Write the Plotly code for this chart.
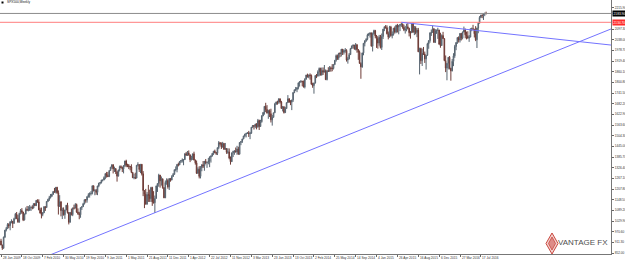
import plotly.graph_objects as go

# ---------------- data (SPX500 weekly, week start 28 Jun 2009 .. 14 Aug 2016) ----------------
opens = [919.0, 896.4, 879.1, 940.4, 979.3, 987.5, 1010.5, 1004.1, 1026.1, 1028.9,
 1016.4, 1042.7, 1068.3, 1044.4, 1025.2, 1071.5, 1087.7, 1079.6, 1036.2, 1069.3,
 1093.5, 1091.4, 1091.5, 1106.0, 1106.4, 1102.5, 1126.5, 1115.1, 1145.0, 1136.0,
 1091.8, 1073.9, 1066.2, 1075.5, 1109.2, 1104.5, 1138.7, 1150.0, 1159.9, 1166.6,
 1178.1, 1194.4, 1192.1, 1217.3, 1186.7, 1110.9, 1135.7, 1087.7, 1089.4, 1064.9,
 1091.6, 1117.5, 1076.8, 1022.6, 1078.0, 1064.9, 1102.7, 1101.6, 1121.6, 1079.3,
 1071.7, 1064.6, 1104.5, 1109.6, 1125.6, 1148.7, 1146.2, 1165.2, 1176.2, 1183.1,
 1183.3, 1225.9, 1199.2, 1199.7, 1189.4, 1224.7, 1240.4, 1243.9, 1256.8, 1257.6,
 1271.5, 1293.2, 1283.4, 1276.3, 1310.9, 1329.2, 1343.0, 1319.9, 1321.2, 1304.3,
 1279.2, 1313.8, 1332.4, 1328.2, 1319.7, 1337.4, 1363.6, 1340.2, 1338.0, 1333.3,
 1331.1, 1300.2, 1271.0, 1271.5, 1268.5, 1339.7, 1343.8, 1316.1, 1345.0, 1292.3,
 1199.4, 1178.8, 1123.5, 1176.8, 1174.0, 1154.2, 1216.0, 1136.4, 1131.4, 1155.5,
 1224.6, 1238.3, 1285.1, 1253.2, 1263.9, 1215.7, 1158.7, 1244.3, 1255.2, 1219.7,
 1265.3, 1257.6, 1277.8, 1289.1, 1315.4, 1316.3, 1344.9, 1342.6, 1361.2, 1366.0,
 1370.0, 1370.9, 1404.2, 1397.1, 1408.5, 1398.1, 1370.3, 1378.5, 1403.4, 1369.1,
 1353.4, 1295.2, 1317.8, 1278.0, 1325.7, 1342.8, 1335.0, 1362.2, 1354.7, 1356.8,
 1362.7, 1386.0, 1391.0, 1405.9, 1418.2, 1411.1, 1406.6, 1437.9, 1465.8, 1460.2,
 1440.7, 1460.9, 1428.6, 1433.2, 1411.9, 1414.2, 1379.9, 1359.9, 1409.2, 1416.2,
 1418.1, 1413.6, 1430.2, 1402.4, 1466.5, 1472.1, 1486.0, 1503.0, 1513.2, 1517.9,
 1519.8, 1515.6, 1518.2, 1551.2, 1560.7, 1556.9, 1569.2, 1553.3, 1588.9, 1555.3,
 1582.2, 1614.4, 1633.7, 1667.5, 1649.6, 1630.7, 1643.4, 1626.7, 1592.4, 1606.3,
 1631.9, 1680.2, 1692.1, 1691.7, 1709.7, 1691.4, 1655.8, 1663.5, 1633.0, 1655.2,
 1688.0, 1709.9, 1691.8, 1690.5, 1703.2, 1744.5, 1759.8, 1761.6, 1770.6, 1798.2,
 1804.8, 1805.8, 1805.1, 1775.3, 1818.3, 1841.4, 1831.4, 1842.4, 1838.7, 1790.3,
 1782.6, 1797.0, 1838.6, 1836.2, 1859.5, 1878.0, 1841.1, 1866.5, 1857.6, 1865.1,
 1815.7, 1864.9, 1863.4, 1881.1, 1878.5, 1877.9, 1900.5, 1923.6, 1949.4, 1936.2,
 1962.9, 1961.0, 1985.4, 1967.6, 1978.2, 1978.3, 1925.2, 1931.6, 1955.1, 1988.4,
 2003.4, 2007.7, 1985.5, 2010.4, 1982.9, 1967.9, 1906.1, 1886.8, 1964.6, 2018.1,
 2031.9, 2039.8, 2063.5, 2067.6, 2075.4, 2002.3, 2070.7, 2088.8, 2058.2, 2044.8,
 2019.4, 2051.8, 1995.0, 2055.5, 2097.0, 2110.3, 2104.5, 2071.3, 2053.4, 2108.1,
 2061.0, 2067.0, 2102.1, 2081.2, 2117.7, 2108.3, 2116.1, 2122.7, 2126.1, 2107.4,
 2092.8, 2094.1, 2110.0, 2101.5, 2076.8, 2076.6, 2126.6, 2079.7, 2103.8, 2077.6,
 2091.5, 1970.9, 1988.9, 1921.2, 1961.1, 1958.0, 1931.3, 1951.4, 2014.9, 2033.1,
 2075.2, 2079.4, 2099.2, 2023.0, 2089.2, 2090.1, 2091.7, 2012.4, 2005.6, 2061.0,
 2043.9, 1922.0, 1880.3, 1906.9, 1940.2, 1880.0, 1864.8, 1917.8, 1948.1, 2000.0,
 2022.2, 2049.6, 2035.9, 2072.8, 2047.6, 2080.7, 2091.6, 2065.3, 2057.1, 2046.6,
 2052.3, 2099.1, 2099.1, 2096.1, 2071.2, 2037.4, 2103.0, 2129.9, 2161.7, 2175.0,
 2173.6, 2182.9, 2184.1]

highs = [931, 898, 943, 980, 996.7, 1018, 1018, 1027.6, 1039.5, 1030,
 1048.2, 1074.8, 1080.2, 1063, 1076, 1096.6, 1101.4, 1081, 1071, 1105.4,
 1113.7, 1112.4, 1119.1, 1110.7, 1117.7, 1128, 1130.4, 1145.4, 1150.4, 1150.5,
 1103.7, 1104.7, 1080, 1112.4, 1112.4, 1139, 1153.4, 1169.8, 1180.2, 1181.4,
 1194.7, 1213.9, 1217.8, 1219.8, 1200, 1173.6, 1141.4, 1104.3, 1105.7, 1092,
 1119.4, 1131.2, 1080, 1080, 1099, 1103.7, 1120.9, 1129.2, 1127, 1100,
 1081, 1105, 1110, 1131, 1148.9, 1151, 1167.7, 1184.4, 1189.4, 1196,
 1227.1, 1227, 1207, 1207.8, 1225.6, 1242, 1246.7, 1259.4, 1259.3, 1278.2,
 1296.1, 1303, 1302.7, 1311, 1330.8, 1344.1, 1344.5, 1332.3, 1322.5, 1305.5,
 1314.8, 1337.9, 1339.5, 1332, 1341, 1364.6, 1370.6, 1348.4, 1346.8, 1336,
 1345.2, 1301, 1292.5, 1298.6, 1341, 1356.5, 1344, 1347, 1347, 1307.4,
 1201, 1208.5, 1190.7, 1230.7, 1204.4, 1220.1, 1220.4, 1195.9, 1171.4, 1226.8,
 1239, 1292.7, 1286, 1277.6, 1266.9, 1217, 1255.1, 1267.1, 1265.4, 1269,
 1269.4, 1284.6, 1296.8, 1315.5, 1333.5, 1345.3, 1354.3, 1362.2, 1368.9, 1378,
 1371.9, 1405.9, 1414, 1419.2, 1422.4, 1399, 1392.8, 1404.2, 1415.3, 1371,
 1365.9, 1328.5, 1334.9, 1335, 1344.8, 1363.5, 1362.3, 1374.8, 1357.3, 1380.4,
 1389.2, 1394.2, 1407, 1418.7, 1426.7, 1413.5, 1438, 1474.5, 1467, 1467.1,
 1470, 1464, 1464, 1434, 1434.3, 1433.4, 1388.8, 1410, 1421, 1424,
 1438.6, 1448, 1443, 1467.9, 1472.8, 1487, 1503.3, 1514.4, 1518.3, 1524.7,
 1530.9, 1525.3, 1552.5, 1563.6, 1563.6, 1570.3, 1573.7, 1597.4, 1593.3, 1592.6,
 1618.5, 1635, 1669, 1687.2, 1674.2, 1648.7, 1650.5, 1654.2, 1620, 1632,
 1687, 1693.1, 1698.8, 1711, 1710, 1697.9, 1669.5, 1669.5, 1664.8, 1689.6,
 1729.9, 1711.2, 1701.9, 1703.4, 1745.3, 1760, 1775.2, 1774.5, 1799, 1806,
 1813.6, 1810, 1811, 1823.8, 1842.8, 1849.4, 1843.2, 1850.8, 1844.6, 1798.8,
 1799, 1840, 1847.5, 1867.9, 1883.6, 1882.4, 1883.3, 1883.9, 1897.3, 1872.5,
 1869.6, 1884.9, 1891.3, 1889.1, 1902.2, 1901.3, 1924, 1955.6, 1955.6, 1963.9,
 1968.2, 1985.6, 1986, 1983.9, 1991.4, 1984.9, 1942.9, 1964, 1992.4, 2005,
 2011.2, 2009.2, 2019.3, 2012, 1985.2, 1977.8, 1912.1, 1965.3, 2019, 2034.3,
 2046.2, 2071.5, 2075.8, 2079.5, 2077.9, 2077.9, 2093.6, 2092.7, 2064.4, 2056.9,
 2064.6, 2064.6, 2072.4, 2097.5, 2111, 2119.6, 2117.5, 2083.5, 2114.9, 2114.9,
 2084, 2102.6, 2111.9, 2120.9, 2125.9, 2120.5, 2123.9, 2134.7, 2126.2, 2121.9,
 2115, 2126.6, 2129.9, 2104, 2085.7, 2128.7, 2132.8, 2114.2, 2112.7, 2102.7,
 2103.5, 1993.5, 1993.5, 1988.6, 1997.5, 1971.9, 1952, 2020.9, 2033.5, 2079.7,
 2094.3, 2116.5, 2100, 2097.4, 2094.1, 2104.3, 2093, 2076.7, 2067.7, 2081.6,
 2046, 1950.3, 1908.9, 1941, 1947.2, 1881.6, 1930.7, 1962.9, 2009.1, 2024.7,
 2052.4, 2056.6, 2075.1, 2075.1, 2083.3, 2111, 2099.9, 2083.3, 2084.9, 2064.1,
 2100.1, 2105.3, 2120.6, 2098, 2113.3, 2104, 2131.7, 2169, 2175.6, 2177.1,
 2184, 2188.5, 2193.8]

lows = [895, 869.3, 875, 935, 972, 986, 990, 978.5, 1017, 991,
 1016, 1040, 1040, 1019.95, 1020, 1066, 1070, 1029.4, 1033, 1067,
 1085, 1083.7, 1086, 1085.9, 1095, 1099.5, 1114.8, 1114, 1131.4, 1090.2,
 1071.6, 1044.5, 1056.5, 1075, 1086, 1104, 1134.9, 1141.5, 1155.4, 1165.5,
 1175.4, 1186.8, 1183.7, 1181.6, 1065.8, 1110, 1055.9, 1040.8, 1060, 1042.2,
 1089.6, 1071.5, 1010.9, 1022, 1061, 1056.9, 1094, 1101, 1076, 1063.9,
 1039.7, 1047.9, 1091.5, 1108, 1122, 1131.9, 1131.9, 1159.7, 1159.7, 1171.7,
 1177.7, 1194.1, 1173, 1176, 1173.6, 1217.8, 1232.9, 1238.3, 1250.2, 1257,
 1262.2, 1271.3, 1275.1, 1275.5, 1309, 1320, 1294.3, 1302.6, 1291, 1249,
 1278.5, 1305.3, 1322.9, 1302, 1294.7, 1331.1, 1329.2, 1329.2, 1318.5, 1311.8,
 1296, 1268.5, 1261.9, 1262.9, 1267, 1333, 1302.6, 1295.9, 1282.9, 1168.1,
 1101.5, 1122.2, 1121.1, 1136, 1136.1, 1136, 1114.2, 1127.4, 1074.8, 1154,
 1191.5, 1220.2, 1215.4, 1226.6, 1209.4, 1157, 1157.5, 1231.5, 1209.5, 1202.4,
 1248.6, 1256.5, 1274.6, 1288, 1306.1, 1300.5, 1333.5, 1340, 1352.3, 1354.9,
 1340, 1369.5, 1391.6, 1391.6, 1392.9, 1357.4, 1366.8, 1369, 1367, 1343.3,
 1291.9, 1292.6, 1266.7, 1266.7, 1306.6, 1324.4, 1309.3, 1345.1, 1325.4, 1345.1,
 1329.2, 1354.7, 1389, 1397.3, 1406.1, 1397, 1396.6, 1429.1, 1449.6, 1430.5,
 1439, 1425.5, 1425.5, 1403.3, 1403.3, 1373, 1343.4, 1358, 1385.4, 1398,
 1411.9, 1398.1, 1398.1, 1398.1, 1451.6, 1463.8, 1485, 1495, 1495, 1514,
 1497.3, 1485, 1514.6, 1547.4, 1538.6, 1546.2, 1539.5, 1548.6, 1536, 1554,
 1577, 1613, 1621, 1635.5, 1627, 1598.2, 1607.9, 1577.7, 1560.3, 1604.6,
 1630, 1674.6, 1676.7, 1681.9, 1683.4, 1654, 1639.2, 1627.5, 1630, 1654,
 1686, 1687.1, 1674.1, 1646.5, 1692.1, 1740.5, 1752.7, 1746.2, 1761.6, 1777.2,
 1798.2, 1779.1, 1772.3, 1767, 1816, 1827.7, 1823.7, 1815.8, 1788, 1770.5,
 1737.9, 1794.6, 1824.6, 1832.4, 1834.4, 1839.5, 1839.5, 1842.1, 1856.7, 1814.4,
 1812, 1858.2, 1859.8, 1859.8, 1862.4, 1872.4, 1896.9, 1915.9, 1925.8, 1925.8,
 1941, 1944.7, 1952.9, 1955.6, 1965.8, 1916.4, 1904.8, 1928.8, 1953, 1986.3,
 1990.1, 1983.9, 1978.6, 1965.9, 1926, 1905, 1820.7, 1882, 1951.4, 2001,
 2025.9, 2034.5, 2058.6, 2049.6, 2000, 1972.6, 2066.4, 2046, 1992.4, 1988.1,
 2004.5, 1989.2, 1980.9, 2041.9, 2085.4, 2100.2, 2067.3, 2039.7, 2049, 2055.8,
 2045.5, 2060.8, 2072.6, 2074, 2077.9, 2067.9, 2085.7, 2109.6, 2099.2, 2085.7,
 2072.1, 2084.7, 2095.2, 2056.3, 2044, 2076, 2077.3, 2063.5, 2067.9, 2052.1,
 1969, 1845, 1903.1, 1891.8, 1953.5, 1908.8, 1871.9, 1948, 1987.5, 2021.3,
 2058.8, 2076, 2022.5, 2019.4, 2070.3, 2042.4, 2011.2, 1993.3, 2003, 2043.6,
 1918.5, 1857.8, 1812.3, 1872.7, 1872.7, 1810.1, 1862, 1891, 1937.1, 1979.6,
 2014.7, 2022.5, 2022.5, 2033.8, 2039.7, 2079.1, 2045.6, 2039.5, 2044.5, 2025.9,
 2051.6, 2085.1, 2094, 2050.4, 2030, 1991.7, 2074, 2128, 2159, 2157.6,
 2147.6, 2168.8, 2178]

closes = [896.4, 879.1, 940.4, 979.3, 987.5, 1010.5, 1004.1, 1026.1, 1028.9, 1016.4,
 1042.7, 1068.3, 1044.4, 1025.2, 1071.5, 1087.7, 1079.6, 1036.2, 1069.3, 1093.5,
 1091.4, 1091.5, 1106.0, 1106.4, 1102.5, 1126.5, 1115.1, 1145.0, 1136.0, 1091.8,
 1073.9, 1066.2, 1075.5, 1109.2, 1104.5, 1138.7, 1150.0, 1159.9, 1166.6, 1178.1,
 1194.4, 1192.1, 1217.3, 1186.7, 1110.9, 1135.7, 1087.7, 1089.4, 1064.9, 1091.6,
 1117.5, 1076.8, 1022.6, 1078.0, 1064.9, 1102.7, 1101.6, 1121.6, 1079.3, 1071.7,
 1064.6, 1104.5, 1109.6, 1125.6, 1148.7, 1146.2, 1165.2, 1176.2, 1183.1, 1183.3,
 1225.9, 1199.2, 1199.7, 1189.4, 1224.7, 1240.4, 1243.9, 1256.8, 1257.6, 1271.5,
 1293.2, 1283.4, 1276.3, 1310.9, 1329.2, 1343.0, 1319.9, 1321.2, 1304.3, 1279.2,
 1313.8, 1332.4, 1328.2, 1319.7, 1337.4, 1363.6, 1340.2, 1338.0, 1333.3, 1331.1,
 1300.2, 1271.0, 1271.5, 1268.5, 1339.7, 1343.8, 1316.1, 1345.0, 1292.3, 1199.4,
 1178.8, 1123.5, 1176.8, 1174.0, 1154.2, 1216.0, 1136.4, 1131.4, 1155.5, 1224.6,
 1238.3, 1285.1, 1253.2, 1263.9, 1215.7, 1158.7, 1244.3, 1255.2, 1219.7, 1265.3,
 1257.6, 1277.8, 1289.1, 1315.4, 1316.3, 1344.9, 1342.6, 1361.2, 1366.0, 1370.0,
 1370.9, 1404.2, 1397.1, 1408.5, 1398.1, 1370.3, 1378.5, 1403.4, 1369.1, 1353.4,
 1295.2, 1317.8, 1278.0, 1325.7, 1342.8, 1335.0, 1362.2, 1354.7, 1356.8, 1362.7,
 1386.0, 1391.0, 1405.9, 1418.2, 1411.1, 1406.6, 1437.9, 1465.8, 1460.2, 1440.7,
 1460.9, 1428.6, 1433.2, 1411.9, 1414.2, 1379.9, 1359.9, 1409.2, 1416.2, 1418.1,
 1413.6, 1430.2, 1402.4, 1466.5, 1472.1, 1486.0, 1503.0, 1513.2, 1517.9, 1519.8,
 1515.6, 1518.2, 1551.2, 1560.7, 1556.9, 1569.2, 1553.3, 1588.9, 1555.3, 1582.2,
 1614.4, 1633.7, 1667.5, 1649.6, 1630.7, 1643.4, 1626.7, 1592.4, 1606.3, 1631.9,
 1680.2, 1692.1, 1691.7, 1709.7, 1691.4, 1655.8, 1663.5, 1633.0, 1655.2, 1688.0,
 1709.9, 1691.8, 1690.5, 1703.2, 1744.5, 1759.8, 1761.6, 1770.6, 1798.2, 1804.8,
 1805.8, 1805.1, 1775.3, 1818.3, 1841.4, 1831.4, 1842.4, 1838.7, 1790.3, 1782.6,
 1797.0, 1838.6, 1836.2, 1859.5, 1878.0, 1841.1, 1866.5, 1857.6, 1865.1, 1815.7,
 1864.9, 1863.4, 1881.1, 1878.5, 1877.9, 1900.5, 1923.6, 1949.4, 1936.2, 1962.9,
 1961.0, 1985.4, 1967.6, 1978.2, 1978.3, 1925.2, 1931.6, 1955.1, 1988.4, 2003.4,
 2007.7, 1985.5, 2010.4, 1982.9, 1967.9, 1906.1, 1886.8, 1964.6, 2018.1, 2031.9,
 2039.8, 2063.5, 2067.6, 2075.4, 2002.3, 2070.7, 2088.8, 2058.2, 2044.8, 2019.4,
 2051.8, 1995.0, 2055.5, 2097.0, 2110.3, 2104.5, 2071.3, 2053.4, 2108.1, 2061.0,
 2067.0, 2102.1, 2081.2, 2117.7, 2108.3, 2116.1, 2122.7, 2126.1, 2107.4, 2092.8,
 2094.1, 2110.0, 2101.5, 2076.8, 2076.6, 2126.6, 2079.7, 2103.8, 2077.6, 2091.5,
 1970.9, 1988.9, 1921.2, 1961.1, 1958.0, 1931.3, 1951.4, 2014.9, 2033.1, 2075.2,
 2079.4, 2099.2, 2023.0, 2089.2, 2090.1, 2091.7, 2012.4, 2005.6, 2061.0, 2043.9,
 1922.0, 1880.3, 1906.9, 1940.2, 1880.0, 1864.8, 1917.8, 1948.1, 2000.0, 2022.2,
 2049.6, 2035.9, 2072.8, 2047.6, 2080.7, 2091.6, 2065.3, 2057.1, 2046.6, 2052.3,
 2099.1, 2099.1, 2096.1, 2071.2, 2037.4, 2103.0, 2129.9, 2161.7, 2175.0, 2173.6,
 2182.9, 2184.1, 2183.9]

date_label_bars = [0, 16, 32, 48, 64, 80, 96, 112, 128, 144, 160, 176,
                   192, 208, 224, 240, 256, 272, 288, 304, 320, 336, 352, 368]
date_labels = ["28 Jun 2009", "18 Oct 2009", "7 Feb 2010", "30 May 2010", "19 Sep 2010",
               "9 Jan 2011", "1 May 2011", "21 Aug 2011", "11 Dec 2011", "1 Apr 2012",
               "22 Jul 2012", "11 Nov 2012", "3 Mar 2013", "23 Jun 2013", "13 Oct 2013",
               "2 Feb 2014", "25 May 2014", "14 Sep 2014", "4 Jan 2015", "26 Apr 2015",
               "16 Aug 2015", "6 Dec 2015", "27 Mar 2016", "17 Jul 2016"]

price_ticks = [852.00, 911.30, 970.60, 1029.90, 1089.20, 1148.50, 1207.80, 1267.10,
               1326.40, 1385.70, 1445.00, 1504.30, 1563.60, 1622.90, 1682.20, 1741.50,
               1800.80, 1860.10, 1919.40, 1978.70, 2038.00, 2097.30, 2215.90]

resistance_level = 2134.70
# trendlines: (bar index, price) end points
support_line_bars = [30, 470]
support_line_prices = [819.0, 2104.0]
falling_line_bars = [307, 470]
falling_line_prices = [2134.7, 2006.5]

x_range = [-0.77, 467.8]
y_range = [846.5, 2258.7]

bars = list(range(len(closes)))

fig = go.Figure()
fig.add_trace(go.Candlestick(
    x=bars, open=opens, high=highs, low=lows, close=closes,
    increasing=dict(line=dict(color="#56636f", width=1), fillcolor="#c3ccd3"),
    decreasing=dict(line=dict(color="#6e3b36", width=1), fillcolor="#a9564d"),
    whiskerwidth=0, showlegend=False, hoverinfo="skip",
))

# plot area size in pixels (for decorations placed in paper coordinates)
W, H = 611.0, 254.0

def px(xp, yp):
    return xp / W, 1 - yp / H

def path(points):
    s = ""
    for i, (a, b) in enumerate(points):
        X, Y = px(a, b)
        s += ("M" if i == 0 else "L") + f"{X:.5f},{Y:.5f} "
    return s + "Z"

shapes = [
    dict(type="line", xref="paper", yref="y", x0=0, x1=1, y0=closes[-1], y1=closes[-1],
         line=dict(color="#8c8c8c", width=1), layer="above"),
    dict(type="line", xref="paper", yref="y", x0=0, x1=1, y0=resistance_level, y1=resistance_level,
         line=dict(color="#ff7d7d", width=1), layer="above"),
    dict(type="line", xref="x", yref="y", x0=support_line_bars[0], x1=support_line_bars[1],
         y0=support_line_prices[0], y1=support_line_prices[1],
         line=dict(color="#7373ff", width=1), layer="above"),
    dict(type="line", xref="x", yref="y", x0=falling_line_bars[0], x1=falling_line_bars[1],
         y0=falling_line_prices[0], y1=falling_line_prices[1],
         line=dict(color="#7373ff", width=1), layer="above"),
    # Vantage FX logo
    dict(type="path", xref="paper", yref="paper",
         path=path([(552.0, 233), (558.0, 243.5), (552.0, 254), (546.0, 243.5)]),
         line=dict(color="#c9463d", width=1), fillcolor="rgba(214,110,100,0.30)"),
    dict(type="path", xref="paper", yref="paper",
         path=path([(552.0, 237), (555.5, 243.5), (552.0, 250), (548.5, 243.5)]),
         line=dict(color="#c9463d", width=0.8), fillcolor="rgba(201,70,61,0.5)"),
    # small marker at top-left
    dict(type="rect", xref="paper", yref="paper",
         x0=px(1.5, 0)[0], x1=px(3.5, 0)[0], y0=px(0, 3.5)[1], y1=px(0, 1.5)[1],
         fillcolor="black", line=dict(width=0)),
]

annotations = [
    dict(xref="paper", yref="paper", x=px(5, 0)[0], y=px(0, 2.5)[1], xanchor="left", yanchor="middle",
         text="SPX500,Weekly", showarrow=False, font=dict(size=3.2, color="#111", family="Liberation Sans")),
    dict(xref="paper", yref="paper", x=px(556, 0)[0], y=px(0, 242)[1], xanchor="left", yanchor="middle",
         text="VANTAGE FX", showarrow=False,
         font=dict(size=8, color="#4f4f4f", family="Liberation Sans")),
    dict(xref="paper", yref="y", x=1.0, y=closes[-1], xanchor="left", yanchor="middle", xshift=1,
         text=f"{closes[-1]:.2f}", showarrow=False, bgcolor="#000000", borderpad=0.6,
         font=dict(size=3.2, color="#ffffff", family="Liberation Sans")),
    dict(xref="paper", yref="y", x=1.0, y=resistance_level, xanchor="left", yanchor="middle", xshift=1,
         text=f"{resistance_level:.2f}", showarrow=False, bgcolor="#ff2a2a", borderpad=0.6,
         font=dict(size=3.2, color="#ffffff", family="Liberation Sans")),
]
# date labels along the time axis, left-aligned at their bar (MT4 style)
for b, t in zip(date_label_bars, date_labels):
    annotations.append(dict(xref="x", yref="paper", x=b, y=0, xanchor="left", yanchor="top",
                            xshift=0.5, yshift=-1.2, text=t, showarrow=False, borderpad=0,
                            font=dict(size=3.2, color="#333", family="Liberation Sans")))

fig.update_layout(
    width=625, height=262, autosize=False,
    margin=dict(l=0, r=14, t=0, b=8, pad=0),
    paper_bgcolor="white", plot_bgcolor="white",
    shapes=shapes, annotations=annotations,
    showlegend=False,
    xaxis=dict(range=x_range, rangeslider=dict(visible=False), showgrid=False, zeroline=False,
               tickmode="array", tickvals=date_label_bars, showticklabels=False,
               ticks="outside", ticklen=1.5, tickwidth=1, tickcolor="#666",
               showline=True, linecolor="#777", linewidth=1, mirror=False,
               automargin=False, fixedrange=True),
    yaxis=dict(range=y_range, side="right", showgrid=False, zeroline=False,
               tickmode="array", tickvals=price_ticks, ticktext=[f"{v:.2f}" for v in price_ticks],
               ticks="outside", ticklen=2, tickwidth=1, tickcolor="#666",
               showline=True, linecolor="#777", linewidth=1,
               tickfont=dict(size=3.2, color="#333", family="Liberation Sans"),
               automargin=False, fixedrange=True),
)

fig.write_html("out.html")
